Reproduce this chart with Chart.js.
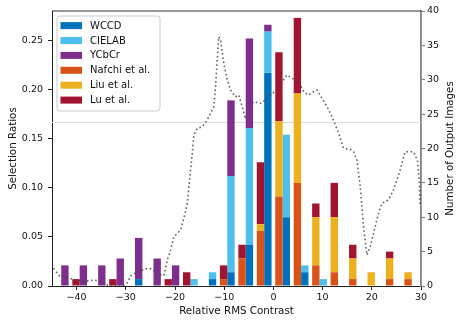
<!DOCTYPE html>
<html>
<head>
<meta charset="utf-8">
<script src="https://cdn.jsdelivr.net/npm/chart.js@4/dist/chart.umd.min.js"></script>
<style>
  html, body { margin: 0; padding: 0; background: #fff; }
  #wrap { width: 463px; height: 325px; position: relative; }
</style>
</head>
<body>
<div id="wrap"><canvas id="c" width="463" height="325"></canvas></div>
<script>
// Histogram bins (centres of relative RMS contrast bins)
const binCenters = [-43.125, -39.375, -35.625, -31.875, -28.125, -24.375, -20.625, -16.875, -13.125, -9.375,
                    -5.625, -1.875, 1.875, 5.625, 9.375, 13.125, 16.875, 20.625, 24.375, 28.125];

// Selection ratios per method (stacked)
const wccd   = [0, 0, 0, 0, 0.007, 0, 0, 0, 0.007, 0.014, 0.042, 0.217, 0.070, 0.014, 0, 0, 0, 0, 0, 0];
const cielab = [0, 0, 0, 0, 0, 0, 0, 0.007, 0.007, 0.098, 0.119, 0.042, 0.084, 0.007, 0.007, 0, 0, 0, 0, 0];
const ycbcr  = [0.021, 0.021, 0.021, 0.028, 0.042, 0.028, 0.021, 0, 0, 0.077, 0.091, 0.007, 0, 0, 0, 0, 0, 0, 0, 0];
const nafchi = [0, 0, 0, 0, 0, 0, 0, 0, 0, 0.007, 0.028, 0.056, 0.091, 0.105, 0.021, 0.014, 0.007, 0, 0.007, 0.007];
const liu    = [0, 0, 0, 0, 0, 0, 0, 0, 0, 0, 0, 0.007, 0.077, 0.091, 0.049, 0.056, 0.021, 0.014, 0.021, 0.007];
const lu     = [0, 0.007, 0, 0.007, 0, 0, 0.007, 0.014, 0, 0.014, 0.014, 0.063, 0.070, 0.077, 0.014, 0.035, 0.014, 0, 0.007, 0];

// Number of output images (dotted curve, right axis)
const curveX = [-44.69, -43.55, -41.85, -40.51, -38.48, -36.45, -34.75, -34.08, -33.06, -30.63, -29.68, -29.01,
  -27.65, -25.62, -24.6, -23.59, -22.25, -21.56, -20.89, -20.22, -18.86, -18.19, -17.5, -16.84, -16.49, -16.17,
  -15.48, -14.46, -13.45, -12.78, -12.11, -11.76, -11.42, -11.1, -10.75, -10.08, -9.39, -8.72, -7.71, -7.04,
  -6.35, -5.68, -5.01, -4.0, -2.64, -1.62, -0.61, 0.75, 1.76, 2.78, 3.79, 5.13, 6.15, 7.16, 8.17, 8.86, 9.88,
  10.89, 11.91, 13.25, 14.26, 15.62, 16.29, 16.98, 17.65, 18.32, 19.01, 19.68, 20.35, 21.36, 22.05, 23.39,
  24.4, 25.76, 26.77, 28.46, 29.27, 29.68, 29.82];
const curveY = [2.57, 1.53, 1.31, 0.87, 0.65, 0.87, 0.65, 0.22, 0, 0, 0.48, 1.45,
  2.08, 2.57, 2.47, 1.67, 1.53, 3.78, 5.24, 7.17, 8.15, 9.89, 12.03, 16.87, 19.3, 21.96,
  22.94, 23.17, 24.15, 25.12, 26.08, 28.99, 32.87, 36.26, 35.78, 32.39, 29.96, 28.51, 27.53, 27.78,
  26.08, 24.29, 26.04, 26.81, 26.57, 27.05, 27.78, 28.51, 29.72, 30.69, 30.21, 29.72, 28.26, 27.78, 28.26, 28.51, 27.3,
  26.08, 24.63, 22.21, 20.03, 19.88, 19.53, 18.33, 14.44, 8.63, 4.51, 5.72, 7.67, 10.57, 12.03, 12.51,
  13.96, 16.87, 19.53, 19.53, 18.33, 14.94, 11.53];

const xTicks = [-40, -30, -20, -10, 0, 10, 20, 30];
const yTicks = [0, 0.05, 0.10, 0.15, 0.20, 0.25];
const y2Ticks = [0, 5, 10, 15, 20, 25, 30, 35, 40];
const chanceLevel = 1 / 6;

const colors = {
  WCCD: '#0072BD', CIELAB: '#4DBEEE', YCbCr: '#7E2F8E',
  Nafchi: '#D95319', Liu: '#EDB120', Lu: '#A2142F'
};
const legendItems = [
  ['WCCD', colors.WCCD], ['CIELAB', colors.CIELAB], ['YCbCr', colors.YCbCr],
  ['Nafchi et al.', colors.Nafchi], ['Liu et al.', colors.Liu], ['Lu et al.', colors.Lu]
];

const FONT = '"DejaVu Sans", sans-serif';

function barDs(label, values, color, stack) {
  return {
    type: 'bar', label,
    data: binCenters.map((x, i) => ({ x, y: values[i] })),
    backgroundColor: color, borderWidth: 0,
    stack, xAxisID: 'x', yAxisID: 'y', order: 1,
    categoryPercentage: 0.8, barPercentage: 1.0
  };
}

const extras = {
  id: 'extras',
  beforeDatasetsDraw(chart) {
    const { ctx, chartArea: a, scales } = chart;
    const y = Math.round(scales.y.getPixelForValue(chanceLevel)) + 0.5;
    ctx.save();
    ctx.strokeStyle = '#dcdcdc';
    ctx.lineWidth = 1;
    ctx.beginPath(); ctx.moveTo(a.left, y); ctx.lineTo(a.right, y); ctx.stroke();
    ctx.restore();
  },
  afterDraw(chart) {
    const { ctx, chartArea: a } = chart;
    ctx.save();
    // top spine
    ctx.strokeStyle = '#333';
    ctx.lineWidth = 1.2;
    ctx.beginPath(); ctx.moveTo(a.left, a.top); ctx.lineTo(a.right, a.top); ctx.stroke();

    // axis titles
    ctx.fillStyle = '#111';
    ctx.font = '10.3px ' + FONT;
    ctx.textAlign = 'center';
    ctx.textBaseline = 'middle';
    ctx.fillText('Relative RMS Contrast', (a.left + a.right) / 2, 311.5);
    ctx.save();
    ctx.translate(13, (a.top + a.bottom) / 2);
    ctx.rotate(-Math.PI / 2);
    ctx.fillText('Selection Ratios', 0, 0);
    ctx.restore();
    ctx.save();
    ctx.translate(450, (a.top + a.bottom) / 2);
    ctx.rotate(-Math.PI / 2);
    ctx.fillText('Number of Output Images', 0, 0);
    ctx.restore();

    // legend
    const bx = 57, by = 16, bw = 103, bh = 95, r = 3;
    ctx.beginPath();
    ctx.moveTo(bx + r, by);
    ctx.arcTo(bx + bw, by, bx + bw, by + bh, r);
    ctx.arcTo(bx + bw, by + bh, bx, by + bh, r);
    ctx.arcTo(bx, by + bh, bx, by, r);
    ctx.arcTo(bx, by, bx + bw, by, r);
    ctx.closePath();
    ctx.fillStyle = 'rgba(255,255,255,0.85)';
    ctx.fill();
    ctx.strokeStyle = '#cccccc';
    ctx.lineWidth = 1;
    ctx.stroke();
    ctx.font = '10px ' + FONT;
    ctx.textAlign = 'left';
    ctx.textBaseline = 'middle';
    legendItems.forEach(([name, col], i) => {
      const cy = 25.6 + i * 14.9;
      ctx.fillStyle = col;
      ctx.fillRect(60.5, cy - 3.5, 21.5, 7);
      ctx.fillStyle = '#111';
      ctx.fillText(name, 90, cy + 0.5);
    });
    ctx.restore();
  }
};

new Chart(document.getElementById('c'), {
  type: 'bar',
  data: {
    datasets: [
      barDs('Nafchi et al.', nafchi, colors.Nafchi, 'others'),
      barDs('Liu et al.', liu, colors.Liu, 'others'),
      barDs('Lu et al.', lu, colors.Lu, 'others'),
      barDs('WCCD', wccd, colors.WCCD, 'ours'),
      barDs('CIELAB', cielab, colors.CIELAB, 'ours'),
      barDs('YCbCr', ycbcr, colors.YCbCr, 'ours'),
      {
        type: 'line', label: 'Number of Output Images',
        data: curveX.map((x, i) => ({ x, y: curveY[i] })),
        xAxisID: 'x', yAxisID: 'y2', order: 0,
        borderColor: 'rgba(70,70,70,0.85)', borderWidth: 1.6,
        borderDash: [1.6, 2.6], pointRadius: 0, tension: 0, fill: false
      }
    ]
  },
  options: {
    responsive: false,
    animation: false,
    devicePixelRatio: 1,
    layout: { padding: { top: 11, left: 0, right: 0, bottom: 0 } },
    plugins: { legend: { display: false }, tooltip: { enabled: false } },
    scales: {
      x: {
        type: 'linear', position: 'bottom', min: -45, max: 30, offset: false, stacked: true,
        afterBuildTicks: s => { s.ticks = xTicks.map(v => ({ value: v })); },
        afterFit: s => { s.height = 39; },
        ticks: {
          color: '#111', font: { family: FONT, size: 9.5 }, padding: 2, maxRotation: 0,
          callback: v => String(v).replace('-', '\u2212')
        },
        grid: { offset: false, drawOnChartArea: false, drawTicks: true, tickLength: 4, tickColor: '#222', tickWidth: 1 },
        border: { display: true, color: '#222', width: 1 }
      },
      y: {
        type: 'linear', position: 'left', min: 0, max: 0.28, stacked: true,
        afterBuildTicks: s => { s.ticks = yTicks.map(v => ({ value: v })); },
        afterFit: s => { s.width = 52; },
        ticks: { color: '#111', font: { family: FONT, size: 9.5 }, padding: 5, callback: v => Number(v).toFixed(2) },
        grid: { drawOnChartArea: false, drawTicks: true, tickLength: 4, tickColor: '#222', tickWidth: 1 },
        border: { display: true, color: '#222', width: 1 }
      },
      y2: {
        type: 'linear', position: 'right', min: 0, max: 40,
        afterBuildTicks: s => { s.ticks = y2Ticks.map(v => ({ value: v })); },
        afterFit: s => { s.width = 42; },
        ticks: { color: '#111', font: { family: FONT, size: 9.5 }, padding: 2, callback: v => String(v) },
        grid: { drawOnChartArea: false, drawTicks: true, tickLength: 4, tickColor: '#808080', tickWidth: 1.2 },
        border: { display: true, color: '#808080', width: 1.8 }
      }
    }
  },
  plugins: [extras]
});
</script>
</body>
</html>
